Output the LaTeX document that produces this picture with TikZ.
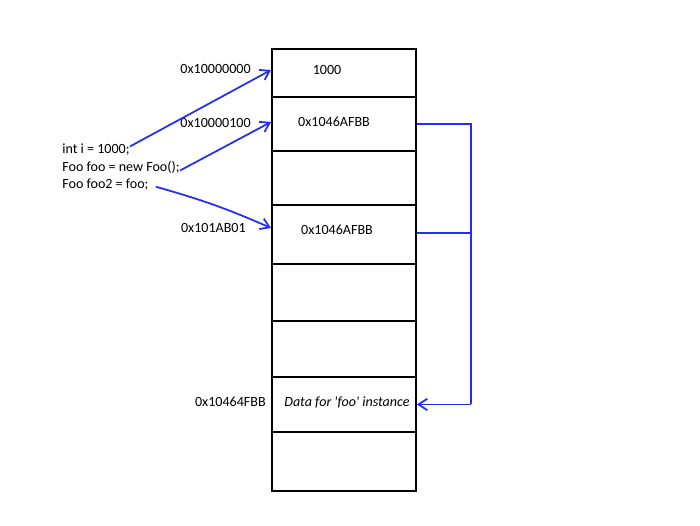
\documentclass[tikz,border=0pt]{standalone}
\usepackage{fontspec}
\setmainfont{Carlito}
\usepackage{xcolor}
\usetikzlibrary{arrows.meta}
\definecolor{ptrblue}{RGB}{35,45,250}

\begin{document}
\begin{tikzpicture}[x=0.02cm, y=-0.02cm,
  font=\fontsize{8pt}{10pt}\selectfont]
  \tikzset{
cell/.style={draw, line width=1.1pt, anchor=north west, inner sep=0pt,
    minimum width=2.88cm},
txt/.style={inner sep=0pt},
addr/.style={inner sep=0pt, anchor=east},
ptr/.style={draw=ptrblue, line width=1pt,
    -{Straight Barb[length=5pt,width=6.5pt,line width=1pt]}},
link/.style={draw=ptrblue, line width=1pt},
}
  \useasboundingbox (0,0) rectangle (700,525);

  % Memory cells
  \node [cell, minimum height=0.96cm] (cellA) at (271,48) {};
  \node [cell, minimum height=1.08cm] (cellB) at (271,96) {};
  \node [cell, minimum height=1.08cm] (cellC) at (271,150) {};
  \node [cell, minimum height=1.18cm] (cellD) at (271,204) {};
  \node [cell, minimum height=1.14cm] (cellE) at (271,263) {};
  \node [cell, minimum height=1.12cm] (cellF) at (271,320) {};
  \node [cell, minimum height=1.10cm] (cellG) at (271,376) {};
  \node [cell, minimum height=1.18cm] (cellH) at (271,431) {};

  % Cell contents
  \node [txt] (valA) at (327,70) {1000};
  \node [txt] (valB) at (334,122) {0x1046AFBB};
  \node [txt] (valD) at (337,230) {0x1046AFBB};
  \node [txt] (valG) at (347,402) {\itshape Data for \textquotesingle foo\textquotesingle\ instance};

  % Addresses
  \node [addr] (addrA) at (251,69) {0x10000000};
  \node [addr] (addrB) at (251,123) {0x10000100};
  \node [addr] (addrD) at (246,228) {0x101AB01};
  \node [addr] (addrG) at (266,402) {0x10464FBB};

  % Code
  \node [txt, anchor=west] (codei) at (62,150) {int i = 1000;};
  \node [txt, anchor=west] (codefoo) at (62,167) {Foo foo = new Foo();};
  \node [txt, anchor=west] (codefootwo) at (62,185) {Foo foo2 = foo;};

  % Pointers from the code
  \draw [ptr] ([yshift=2pt]codei.east) -- (cellA.west |- valA);
  \draw [ptr] ([yshift=-2pt]codefoo.east) -- (cellB.west |- valB);
  \draw [ptr] ([xshift=4pt,yshift=-1pt]codefootwo.east) to[bend left=4] (cellD.west |- addrD);

  % References to the instance
  \coordinate (rail) at (471,122);
  \coordinate (refD) at ([yshift=0.8pt]cellD.east);
  \draw [link] (cellB.east) -- (cellB.east -| rail) -- (rail |- cellG.east);
  \draw [link] (refD) -- (refD -| rail);
  \draw [ptr] (rail |- cellG.east) -- (cellG.east);
\end{tikzpicture}
\end{document}
